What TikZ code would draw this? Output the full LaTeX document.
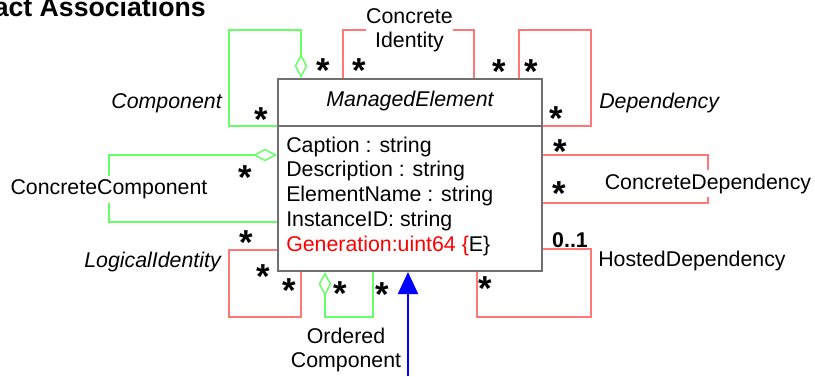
\documentclass[tikz,border=0pt]{standalone}
\usepackage{fontspec}
\setmainfont{Liberation Sans}
\usetikzlibrary{arrows.meta, positioning}

\definecolor{boxgray}{RGB}{112,112,112}
\definecolor{aggrgreen}{RGB}{102,255,102}
\definecolor{assocred}{RGB}{255,119,119}

\tikzset{
  txt/.style = {font=\fontsize{16}{18}\selectfont, inner sep=0pt},
  role/.style = {txt, font=\fontsize{16}{18}\selectfont\itshape},
  mult/.style = {font=\fontsize{26}{26}\selectfont\bfseries, inner sep=0pt, anchor=base, yshift=-14.25pt},
  green link/.style = {draw=aggrgreen, line width=1.1pt},
  red link/.style = {draw=assocred, line width=1.1pt},
  aggr/.style = {{Diamond[open, length=18pt, width=9.5pt]}-},
}

\begin{document}
\begin{tikzpicture} [x=0.75pt, y=-0.75pt]
\useasboundingbox (0,0) rectangle (815,376);

\node (title) [anchor=base east, font=\fontsize{20}{24}\selectfont\bfseries, inner sep=0pt] at (206,16) {Abstract Associations};

\node (me) [draw=boxgray, line width=1.5pt, minimum width=198pt, minimum height=144pt, anchor=north west, inner sep=0pt] at (277,78) {};
\draw [boxgray, line width=1.5pt] ([yshift=-36pt]me.north west) -- ([yshift=-36pt]me.north east);
\node (name) [role, anchor=base] at (410,106) {ManagedElement};
\foreach \attr [count=\i from 0] in {Caption : string, Description : string, ElementName : string, InstanceID: string}
  \node (attr\i) [txt, anchor=base west] at (286,152+24.75*\i) {\attr};
\node (attr4) [txt, anchor=base west, red] at (286,251) {Generation:uint64 \{\textcolor{black}{E\}}};

\node (cmp) [role, anchor=base east] at (222,108) {Component};
\node (dep) [role, anchor=base west] at (599,108) {Dependency};
\node (lid) [role, anchor=base east] at (221,267) {LogicalIdentity};
\node (hd) [txt, anchor=base west] at (598,266) {HostedDependency};
\node (ci) [txt, align=center, inner xsep=0pt] at (409.5,30) {Concrete\\Identity};
\node (cc) [txt, inner ysep=2.5pt] at (109,189.5) {ConcreteComponent};
\node (cd) [txt, inner ysep=2.5pt] at (708,183.5) {ConcreteDependency};
\node (oc) [txt, align=center] at (346,350) {Ordered\\Component};
\node (hdm) [anchor=base, font=\fontsize{16}{16}\selectfont\bfseries, inner sep=0pt] at (570,247) {0..1};

\draw [green link, aggr] ([xshift=18pt]me.north west) -- ++(0,-48) -- ++(-72,0) -- ++(0,96) -- ([yshift=-36pt]me.north west);
\draw [red link] ([xshift=49.5pt]me.north west) |- (ci.west) (ci.east) -| ([xshift=147.75pt]me.north west);
\draw [red link] ([xshift=-18pt]me.north east) -- ++(0,-48) -- ++(72,0) -- ++(0,96) -- ([yshift=-36pt]me.north east);
\draw [green link, aggr] ([yshift=-57.75pt]me.north west) -| (cc.north);
\draw [green link] (cc.south) |- ([yshift=-108pt]me.north west);
\draw [red link] ([yshift=-57.75pt]me.north east) -| (cd.north) (cd.south) |- ([yshift=-93.75pt]me.north east);
\draw [red link] ([yshift=-129pt]me.north west) -- ++(-48,0) -- ++(0,67) -- ++(72,0) -- ([xshift=18pt]me.south west);
\draw [green link, aggr] ([xshift=36pt]me.south west) -- ++(0,45) -- ++(48,0) -- ([xshift=72pt]me.south west);
\draw [red link] ([yshift=-128.25pt]me.north east) -- ++(48,0) -- ++(0,68) -- ++(-114,0) -- ([xshift=-49.5pt]me.south east);

\coordinate (base) at (408,376);
\draw [blue, line width=1.5pt, -{Triangle[length=16.5pt, width=15pt]}] (base) -- (base |- me.south);

\foreach \pos [count=\i] in {(323,63), (261,112), (359.5,63), (499.5,64), (531.5,64), (556.5,111.5), (560,144), (559,186), (245,170), (246.5,235), (263,269), (289,283), (340,286), (382,287), (485.5,281)}
  \node (mult\i) [mult] at \pos {*};
\end{tikzpicture}
\end{document}
